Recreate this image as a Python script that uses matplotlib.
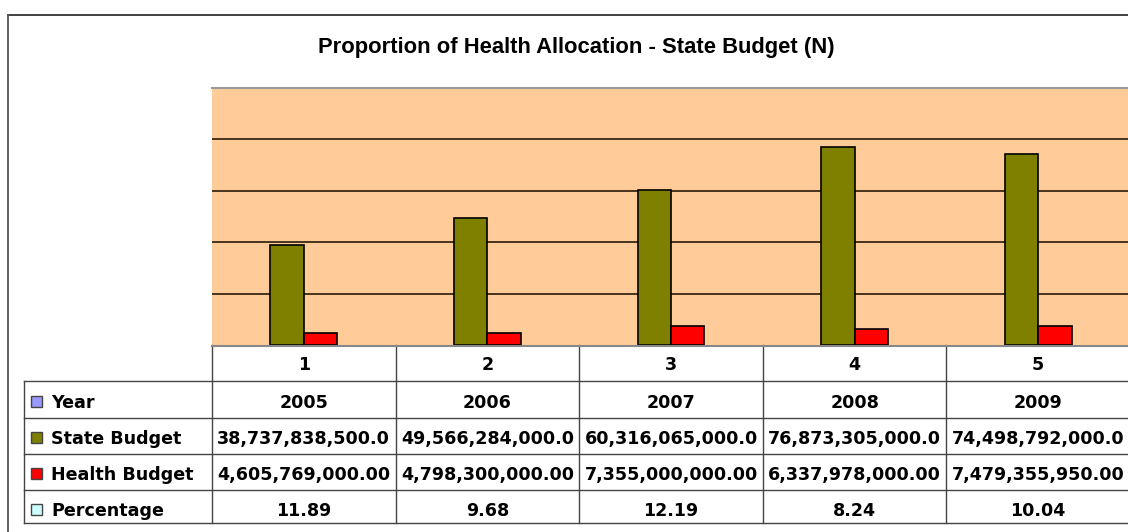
import matplotlib
matplotlib.use('Agg')
import matplotlib.pyplot as plt
from matplotlib.lines import Line2D
from matplotlib.patches import Rectangle

# data
categories = ['1', '2', '3', '4', '5']
years = [2005, 2006, 2007, 2008, 2009]
state_budget = [38737838500.0, 49566284000.0, 60316065000.0, 76873305000.0, 74498792000.0]
health_budget = [4605769000.00, 4798300000.00, 7355000000.00, 6337978000.00, 7479355950.00]
percentage = [11.89, 9.68, 12.19, 8.24, 10.04]

series_names = ['Year', 'State Budget', 'Health Budget', 'Percentage']
series_colors = ['#9999FF', '#808000', '#FF0000', '#CCFFFF']

year_labels = ['2005', '2006', '2007', '2008', '2009']
state_labels = ['38,737,838,500.0', '49,566,284,000.0', '60,316,065,000.0',
                '76,873,305,000.0', '74,498,792,000.0']
health_labels = ['4,605,769,000.00', '4,798,300,000.00', '7,355,000,000.00',
                 '6,337,978,000.00', '7,479,355,950.00']
pct_labels = ['11.89', '9.68', '12.19', '8.24', '10.04']

W, H = 1128, 532
fig = plt.figure(figsize=(W / 100, H / 100), dpi=100)
fig.patch.set_facecolor('white')


def fx(px):
    return px / W


def fy(py):
    return 1 - py / H


# outer frame of the chart
fig.add_artist(Line2D([fx(8), fx(1128)], [fy(14.5), fy(14.5)], color='#333333', lw=1.3))
fig.add_artist(Line2D([fx(8), fx(8)], [fy(14.5), fy(532)], color='#555555', lw=1.3))

fig.text(fx(576), fy(47), 'Proportion of Health Allocation - State Budget (N)',
         ha='center', va='center', fontsize=15.8, fontweight='bold',
         family='Liberation Sans')

# plot area
left, right, top, bottom = 212, 1130, 88, 345
ax = fig.add_axes([fx(left), fy(bottom), fx(right - left), (bottom - top) / H])
ax.set_facecolor('#FFCC99')
ax.set_xlim(-0.5, 4.5)
ax.set_ylim(0, 100e9)
ax.set_yticks([20e9, 40e9, 60e9, 80e9])
ax.yaxis.grid(True, color='#2a1a0a', lw=1.2)
ax.set_axisbelow(True)
ax.tick_params(left=False, bottom=False, labelleft=False, labelbottom=False)
for s in ['left', 'right', 'bottom']:
    ax.spines[s].set_visible(False)
ax.spines['top'].set_color('#999999')
ax.spines['top'].set_linewidth(1.5)

w = 1 / 5.5
all_series = [years, state_budget, health_budget, percentage]
x = list(range(len(categories)))
for i, (vals, col) in enumerate(zip(all_series, series_colors)):
    offs = (i - 1.5) * w
    # year / percentage bars are far too small to show on this scale
    lw = 1.2 if max(vals) > 1e6 else 0
    ax.bar([v + offs for v in x], vals, width=w, color=col,
           edgecolor='black', linewidth=lw, zorder=3)

# data table under the plot
tleft = 24
ncols_left = (left - tleft) / ((right - left) / 5)
tax = fig.add_axes([fx(tleft), fy(523), fx(right - tleft), (523 - 345) / H])
tax.set_xlim(-0.5 - ncols_left, 4.5)
tax.set_ylim(523, 345)
tax.axis('off')

rows = [381, 418, 454, 490, 523]
line_col = '#444444'
tax.plot([-0.5, 4.5], [345.5, 345.5], color='#888888', lw=1.5, clip_on=False, zorder=5)
for r in rows:
    tax.plot([-0.5 - ncols_left, 4.5], [r, r], color=line_col, lw=1, clip_on=False)
tax.plot([-0.5 - ncols_left] * 2, [381, 523], color=line_col, lw=1, clip_on=False)
for c in [-0.5, 0.5, 1.5, 2.5, 3.5]:
    tax.plot([c, c], [345, 523], color=line_col, lw=1, clip_on=False)

tfont = dict(family='DejaVu Sans', fontweight='bold', fontsize=12.6)
for i, c in enumerate(categories):
    tax.text(i, 365, c, ha='center', va='center', **tfont)

row_text = [year_labels, state_labels, health_labels, pct_labels]
row_mid = [403, 439, 475, 511]
key_x = -0.5 - ncols_left + 7 / 183.6
for name, col, labels, ym in zip(series_names, series_colors, row_text, row_mid):
    tax.add_patch(Rectangle((key_x, ym - 7), 11 / 183.6, 11, facecolor=col,
                            edgecolor='#444444', lw=1, clip_on=False))
    tax.text(key_x + 20 / 183.6, ym, name, ha='left', va='center', **tfont)
    for i, lab in enumerate(labels):
        tax.text(i, ym, lab, ha='center', va='center', **tfont)

fig.savefig('out.png', dpi=100)
